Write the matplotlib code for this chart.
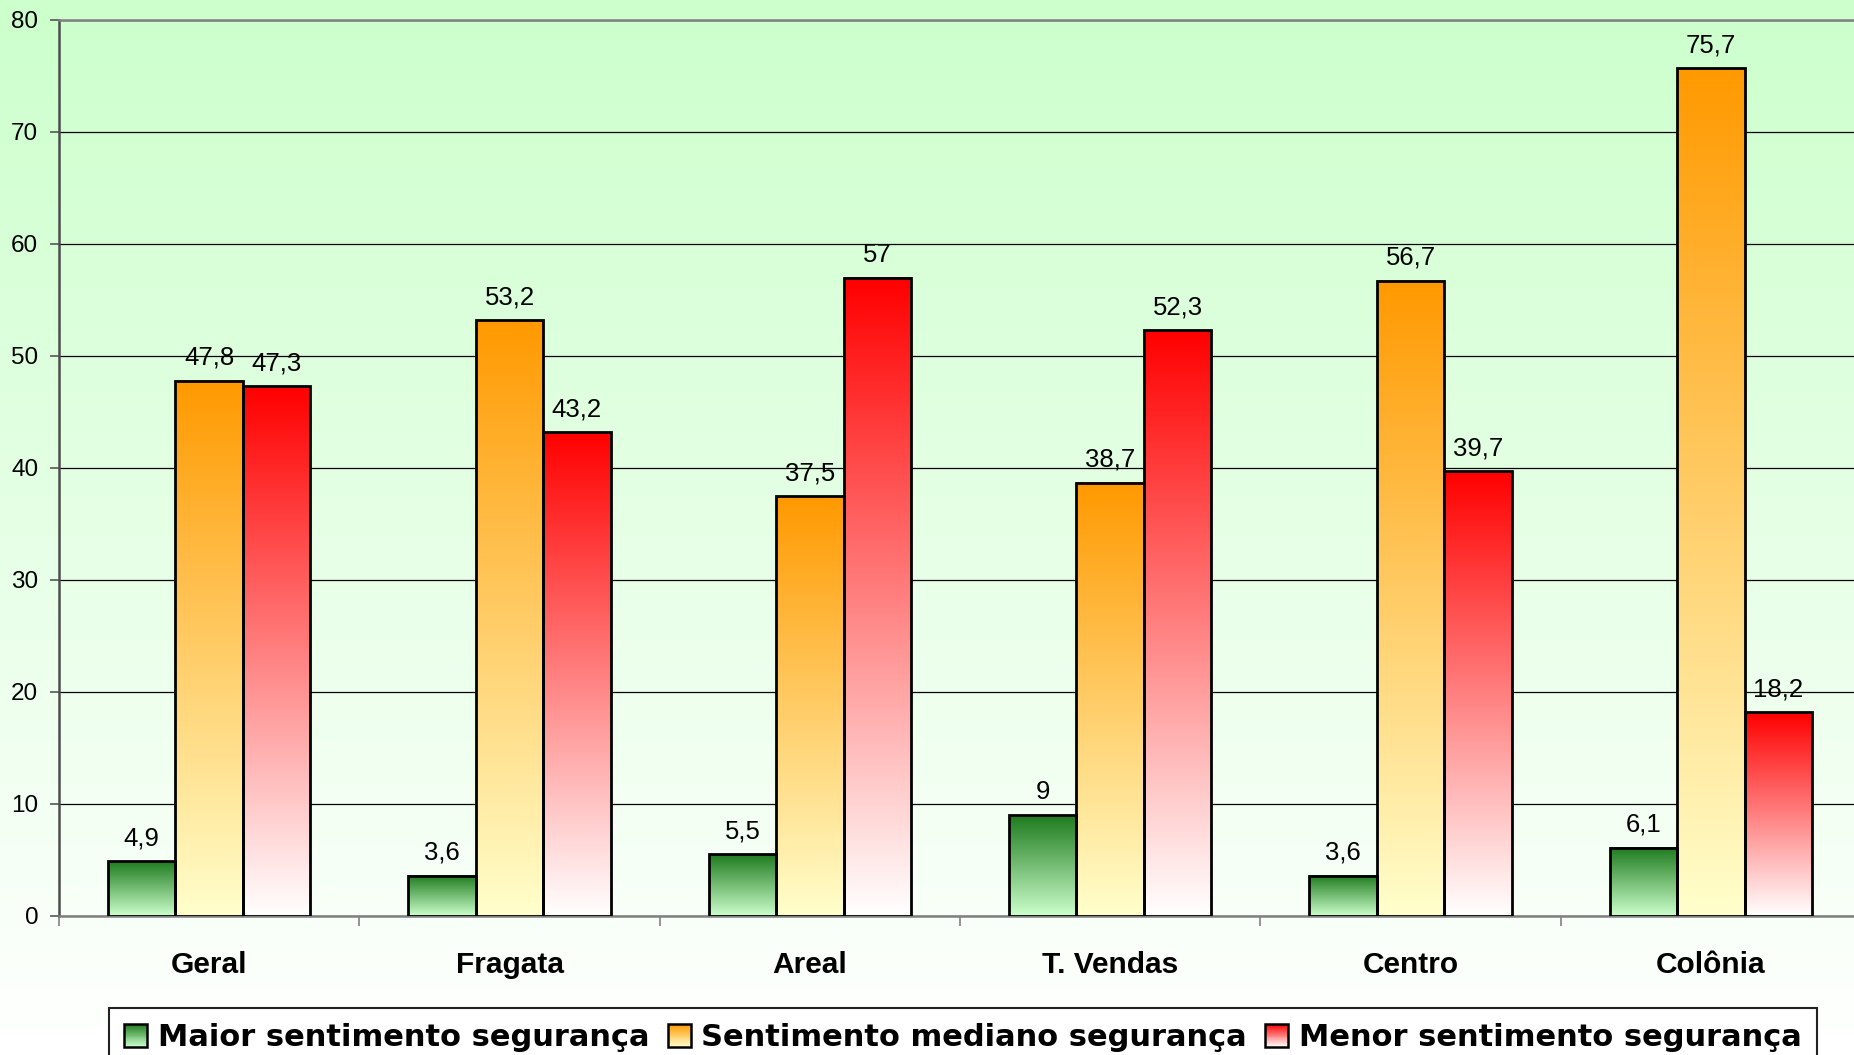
import numpy as np
import matplotlib
matplotlib.use("Agg")
import matplotlib.pyplot as plt
from matplotlib.patches import Rectangle, Patch
from matplotlib.legend_handler import HandlerBase
from matplotlib.colors import to_rgb

categories = ['Geral', 'Fragata', 'Areal', 'T. Vendas', 'Centro', 'Colônia']
maior = [4.9, 3.6, 5.5, 9, 3.6, 6.1]
mediano = [47.8, 53.2, 37.5, 38.7, 56.7, 75.7]
menor = [47.3, 43.2, 57, 52.3, 39.7, 18.2]
series_names = ['Maior sentimento segurança', 'Sentimento mediano segurança',
                'Menor sentimento segurança']
yticks = [0, 10, 20, 30, 40, 50, 60, 70, 80]

grads = [('#1E7B1E', '#CCFFCC'), ('#FF9900', '#FFFFCC'), ('#FF0000', '#FFFFFF')]

W, H = 1854, 1055
fig = plt.figure(figsize=(W / 100, H / 100), dpi=100)

# figure background gradient
bg = fig.add_axes([0, 0, 1, 1], zorder=-10)
top = np.array(to_rgb('#CCFFCC'))
bot = np.array(to_rgb('#FFFFFF'))
t = np.linspace(0, 1, 256)[:, None, None]
bg.imshow(top * (1 - t) + bot * t, aspect='auto', extent=(0, 1, 0, 1))
bg.set_axis_off()

left_px, right_px, top_px, zero_px = 59, 1861, 20, 916
ax = fig.add_axes([left_px / W, (H - zero_px) / H, (right_px - left_px) / W,
                   (zero_px - top_px) / H])
ax.set_facecolor('none')

def fmt(v):
    return f"{v:g}".replace('.', ',')

def gradient_img(c_top, c_bot, n=256):
    a = np.array(to_rgb(c_top)); b = np.array(to_rgb(c_bot))
    tt = np.linspace(0, 1, n)[:, None, None]
    return a * (1 - tt) + b * tt

x = np.arange(len(categories))
bw = 0.2245
for k, vals in enumerate([maior, mediano, menor]):
    offs = (k - 1) * bw
    bars = ax.bar(x + offs, vals, width=bw, facecolor='none', edgecolor='black',
                  linewidth=2.0, zorder=4)
    img = gradient_img(*grads[k])
    for b, v in zip(bars, vals):
        x0 = b.get_x()
        ax.imshow(img, aspect='auto', extent=(x0, x0 + bw, 0, v), zorder=3,
                  interpolation='bilinear')
        ax.annotate(fmt(v), (x0 + bw / 2, v), xytext=(0, 11.5), textcoords='offset points',
                    ha='center', va='baseline', fontsize=18.5, family='Liberation Sans',
                    zorder=5)

ax.set_xlim(-0.5, len(categories) - 0.5)
ax.set_ylim(0, 80)
ax.set_yticks(yticks)
ax.set_yticklabels([str(v) for v in yticks], fontsize=17.5, family='Liberation Sans')
ax.yaxis.grid(True, color='black', linewidth=0.9, zorder=1)
ax.set_axisbelow(True)
ax.tick_params(axis='y', direction='out', length=6.5, width=1.2, color='#555555', pad=8.5)

ax.set_xticks(x)
ax.set_xticklabels(categories, fontsize=21.5, fontweight='bold', family='Liberation Sans')
ax.set_xticks(np.arange(-0.5, len(categories)), minor=True)
ax.tick_params(axis='x', which='major', length=0, pad=25)
ax.tick_params(axis='x', which='minor', direction='out', length=7.2, width=1.2,
               color='#808080')

for s in ['top', 'bottom']:
    ax.spines[s].set_color('#808080')
    ax.spines[s].set_linewidth(1.8)
ax.spines['left'].set_color('#4d4d4d')
ax.spines['left'].set_linewidth(1.8)
ax.spines['right'].set_visible(False)


class GradHandler(HandlerBase):
    def __init__(self, c_top, c_bot):
        super().__init__()
        self.c_top = c_top
        self.c_bot = c_bot

    def create_artists(self, legend, orig_handle, xdescent, ydescent, width, height,
                       fontsize, trans):
        n = 24
        a = np.array(to_rgb(self.c_top)); b = np.array(to_rgb(self.c_bot))
        arts = []
        for i in range(n):
            f = (i + 0.5) / n  # from bottom
            col = b * (1 - f) + a * f
            arts.append(Rectangle((-xdescent, -ydescent + height * i / n), width,
                                  height / n * 1.02, facecolor=col, edgecolor='none',
                                  transform=trans))
        arts.append(Rectangle((-xdescent, -ydescent), width, height, facecolor='none',
                              edgecolor='black', linewidth=1.8, transform=trans))
        return arts


handles = [Patch(label=n) for n in series_names]
hmap = {h: GradHandler(*g) for h, g in zip(handles, grads)}
leg = fig.legend(handles=handles, labels=series_names, handler_map=hmap, ncol=3,
                 loc='upper left', bbox_to_anchor=(109 / W, 1 - 1008 / H),
                 bbox_transform=fig.transFigure, borderaxespad=0, borderpad=0.5,
                 handlelength=0.75, handleheight=0.75, handletextpad=0.35,
                 columnspacing=0.6, fancybox=False, framealpha=1,
                 edgecolor='#222222', facecolor='white',
                 prop={'family': 'DejaVu Sans', 'weight': 'bold', 'size': 22})
leg.get_frame().set_linewidth(1.5)

fig.savefig('out.png', dpi=100)
